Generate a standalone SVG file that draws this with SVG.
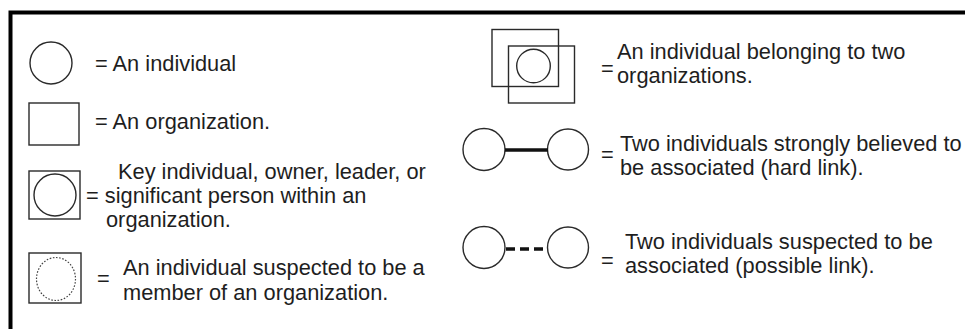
<svg xmlns="http://www.w3.org/2000/svg" width="965" height="329" viewBox="0 0 965 329">
  <style>
    .lbl { font-family: "Liberation Sans", Arial, sans-serif; font-size: 21.8px; fill: #1e1e1e; }
    .shape { fill: none; stroke: #2a2a2a; stroke-width: 1.4; }
    .dotted { fill: none; stroke: #444; stroke-width: 1.2; stroke-dasharray: 1.6 1.6; }
    .hard { stroke: #111; stroke-width: 3.5; }
    .soft { stroke: #111; stroke-width: 3.5; stroke-dasharray: 9 5; }
  </style>

  <!-- page background and legend frame -->
  <rect x="0" y="0" width="965" height="329" fill="#ffffff"/>
  <path d="M10.5 340 V12.5 H970" fill="none" stroke="#000" stroke-width="4"/>

  <!-- left column -->
  <g id="individual">
    <circle class="shape" cx="51" cy="63" r="21"/>
    <text class="lbl" x="95" y="71">= An individual</text>
  </g>

  <g id="organization">
    <rect class="shape" x="29" y="103" width="50" height="42"/>
    <text class="lbl" x="95" y="129">= An organization.</text>
  </g>

  <g id="key-individual">
    <rect class="shape" x="29" y="171" width="51" height="48"/>
    <circle class="shape" cx="55" cy="195" r="21"/>
    <text class="lbl" x="118" y="179">Key individual, owner, leader, or</text>
    <text class="lbl" x="86" y="203">= significant person within an</text>
    <text class="lbl" x="106" y="227">organization.</text>
  </g>

  <g id="suspected-member">
    <rect class="shape" x="29" y="253" width="52" height="50"/>
    <ellipse class="dotted" cx="56" cy="279" rx="19.5" ry="21.5"/>
    <text class="lbl" x="97" y="286">=</text>
    <text class="lbl" x="123" y="275">An individual suspected to be a</text>
    <text class="lbl" x="123" y="300">member of an organization.</text>
  </g>

  <!-- right column -->
  <g id="two-organizations">
    <rect class="shape" x="492" y="29.5" width="66.5" height="57"/>
    <rect class="shape" x="508.5" y="46" width="66" height="57"/>
    <circle class="shape" cx="533.5" cy="66" r="16.8"/>
    <text class="lbl" x="601" y="76">=</text>
    <text class="lbl" x="617" y="58.5">An individual belonging to two</text>
    <text class="lbl" x="617" y="83">organizations.</text>
  </g>

  <g id="hard-link-pair">
    <circle class="shape" cx="484" cy="149.5" r="21"/>
    <circle class="shape" cx="568" cy="149.5" r="20.5"/>
    <text class="lbl" x="601" y="161.5">=</text>
    <text class="lbl" x="620" y="151">Two individuals strongly believed to</text>
    <text class="lbl" x="620" y="175">be associated (hard link).</text>
  </g>

  <g id="possible-link-pair">
    <circle class="shape" cx="484" cy="247.5" r="21"/>
    <circle class="shape" cx="568" cy="247.5" r="20.5"/>
    <text class="lbl" x="601" y="268">=</text>
    <text class="lbl" x="625" y="249">Two individuals suspected to be</text>
    <text class="lbl" x="625" y="273">associated (possible link).</text>
  </g>

  <!-- link lines between the paired individuals -->
  <g id="connectors">
    <line class="hard" x1="505" y1="150" x2="548" y2="150"/>
    <line class="soft" x1="506" y1="249" x2="548" y2="249"/>
  </g>
</svg>
